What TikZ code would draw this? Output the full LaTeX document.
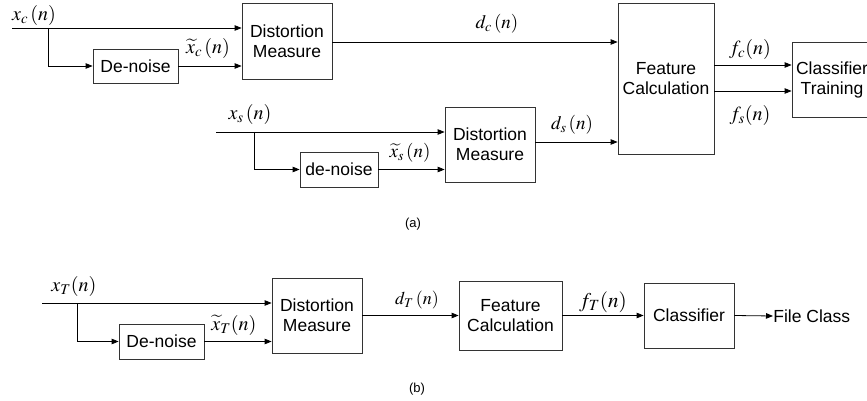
\documentclass[tikz,border=0pt]{standalone}
\usepackage{mathptmx}
\usepackage[no-math]{fontspec}
\setmainfont{Liberation Sans}
\usetikzlibrary{arrows.meta}

\tikzset{
  blk/.style={draw=black!80, line width=0.8pt, align=center, inner sep=0pt,
              font=\fontsize{17.5}{20}\selectfont},
  sig/.style={draw=black, line width=0.8pt, -{Triangle[length=7pt,width=5.5pt]}},
  lbl/.style={inner sep=0pt},
  subcap/.style={inner sep=0pt, font=\fontsize{13}{15}\selectfont}
}
\newcommand\msz[2]{{\fontsize{#1}{#1}\selectfont$#2$}}

\begin{document}
\begin{tikzpicture}[x=1pt,y=-1pt]
\useasboundingbox (0,0) rectangle (867,401);

% ---------- (a) training path ----------
\node[blk, minimum width=90pt, minimum height=76pt] (dmc) at (287,41) {Distortion\\Measure};
\node[blk, minimum width=85pt, minimum height=34pt] (dnc) at (135.5,66) {De-noise};
\node[blk, minimum width=96pt, minimum height=151pt] (fc) at (666,78.5) {Feature\\Calculation};
\node[blk, minimum width=80pt, minimum height=75pt] (ct) at (832,79.5) {Classifier\\Training};
\node[blk, minimum width=90pt, minimum height=75pt] (dms) at (490,144.5) {Distortion\\Measure};
\node[blk, minimum width=78pt, minimum height=35pt] (dns) at (339,169.5) {de-noise};

\coordinate (inc) at (12,28);
\coordinate (brc) at (48,28);
\draw[sig] (inc) -- (dmc.west |- inc);
\draw[sig] (brc) |- (dnc.west);
\draw[sig] (dnc.east) -- (dmc.west |- dnc.east);
\coordinate (dco) at (332,42);
\draw[sig] (dco) -- (fc.west |- dco);

\coordinate (ins) at (216,132);
\coordinate (brs) at (254,132);
\draw[sig] (ins) -- (dms.west |- ins);
\draw[sig] (brs) |- (dns.west);
\draw[sig] (dns.east) -- (dms.west |- dns.east);
\coordinate (dso) at (535,142);
\draw[sig] (dso) -- (fc.west |- dso);

\coordinate (fco) at (714,65);
\coordinate (fso) at (714,91);
\draw[sig] (fco) -- (ct.west |- fco);
\draw[sig] (fso) -- (ct.west |- fso);

\node[lbl] (lxc)  at (34,16)   {\msz{20}{x_c\,(n)}};
\node[lbl] (ltxc) at (208,49)  {\msz{20}{\widetilde{x}_c\,(n)}};
\node[lbl] (ldc)  at (497,24)  {\msz{19}{d_c\,(n)}};
\node[lbl] (lfc)  at (750,50)  {\msz{20}{f_c(n)}};
\node[lbl] (lfs)  at (750,116) {\msz{20}{f_s(n)}};
\node[lbl] (lxs)  at (250,115) {\msz{20}{x_s\,(n)}};
\node[lbl] (ltxs) at (410,153) {\msz{19}{\widetilde{x}_s\,(n)}};
\node[lbl] (lds)  at (572,125) {\msz{19}{d_s\,(n)}};
\node[subcap] (capa) at (413,224) {(a)};

% ---------- (b) test path ----------
\node[blk, minimum width=90pt, minimum height=75pt] (dmt) at (317,315.5) {Distortion\\Measure};
\node[blk, minimum width=85pt, minimum height=35pt] (dnt) at (161.5,341.5) {De-noise};
\node[blk, minimum width=103pt, minimum height=69pt] (fct) at (510.5,315.5) {Feature\\Calculation};
\node[blk, minimum width=90pt, minimum height=65pt] (clt) at (689,315.5) {Classifier};
\node[blk, draw=none, anchor=west, inner sep=0pt] (fcl) at (773,316) {File Class};

\coordinate (int) at (42,303);
\coordinate (brt) at (77,303);
\draw[sig] (int) -- (dmt.west |- int);
\draw[sig] (brt) |- (dnt.west);
\draw[sig] (dnt.east) -- (dmt.west |- dnt.east);
\draw[sig] (dmt.east) -- (fct.west);
\draw[sig] (fct.east) -- (clt.west);
\draw[sig] (clt.east) -- (fcl.west);

\node[lbl] (lxt)  at (74,286)  {\msz{20}{x_T(n)}};
\node[lbl] (ltxt) at (234,325) {\msz{20}{\widetilde{x}_T(n)}};
\node[lbl] (ldt)  at (417,300) {\msz{18}{d_T\,(n)}};
\node[lbl] (lft)  at (603,302) {\msz{21}{f_T(n)}};
\node[subcap] (capb) at (417,389) {(b)};
\end{tikzpicture}
\end{document}
